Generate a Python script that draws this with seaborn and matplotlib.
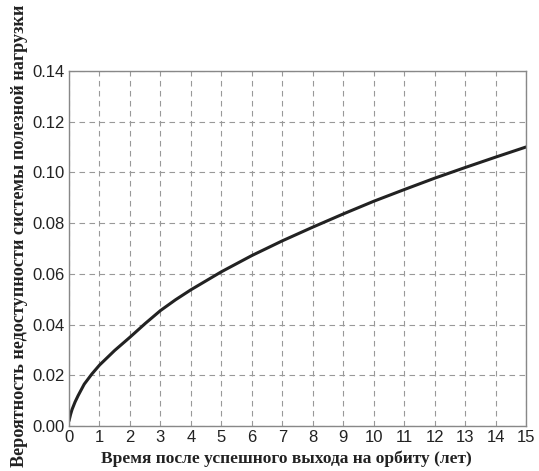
import matplotlib
matplotlib.use("Agg")
import matplotlib.pyplot as plt
import seaborn as sns
import pandas as pd

years = [0, 0.05, 0.1, 0.2, 0.3, 0.5, 0.75, 1, 1.5, 2, 2.5, 3, 3.5, 4, 5, 6, 7, 8, 9, 10, 11, 12, 13, 14, 15]
probability = [0.002, 0.0045, 0.0065, 0.0095, 0.012, 0.0165, 0.0205, 0.0240, 0.0298, 0.0350,
               0.0404, 0.0455, 0.0498, 0.0537, 0.0608, 0.0672, 0.0730, 0.0784, 0.0836,
               0.0886, 0.0932, 0.0977, 0.1019, 0.1060, 0.1100]
x_ticks = list(range(0, 16))
y_ticks = [0.00, 0.02, 0.04, 0.06, 0.08, 0.10, 0.12, 0.14]

df = pd.DataFrame({"t": years, "p": probability})

sns.set_theme(style="white")
plt.rcParams['font.family'] = ['Liberation Sans', 'DejaVu Sans']

fig = plt.figure(figsize=(5.39, 4.71), dpi=100)
ax = fig.add_axes([0.128, 0.0955, 0.848, 0.754])

sns.lineplot(data=df, x="t", y="p", ax=ax, color="#222222", linewidth=2.2)

ax.set_xlim(0, 15)
ax.set_ylim(0, 0.14)
ax.set_xticks(x_ticks)
ax.set_yticks(y_ticks)
ax.set_xticklabels([str(v) for v in x_ticks], fontsize=12)
ax.set_yticklabels([f"{v:.2f}" for v in y_ticks], fontsize=12)
ax.grid(True, linestyle=(0, (5, 4)), color="#999999", linewidth=0.8)
for s in ax.spines.values():
    s.set_color("#888888")
    s.set_linewidth(1.0)
ax.tick_params(axis="both", length=0, pad=3, colors="#222222")

ax.set_xlabel("Время после успешного выхода на орбиту (лет)",
              family=["Liberation Serif", "DejaVu Serif"], fontweight="bold",
              fontsize=12.5, color="#222222")
ax.set_ylabel("Вероятность недоступности системы полезной нагрузки",
              family=["Liberation Serif", "DejaVu Serif"], fontweight="bold",
              fontsize=13.1, color="#222222")
ax.xaxis.label.set_verticalalignment("top")
ax.xaxis.set_label_coords(0.475, -0.068, transform=ax.transAxes)
ax.yaxis.set_label_coords(-0.0897, (426 - 235.5) / (426 - 71), transform=ax.transAxes)

fig.savefig("out.png", dpi=100)
